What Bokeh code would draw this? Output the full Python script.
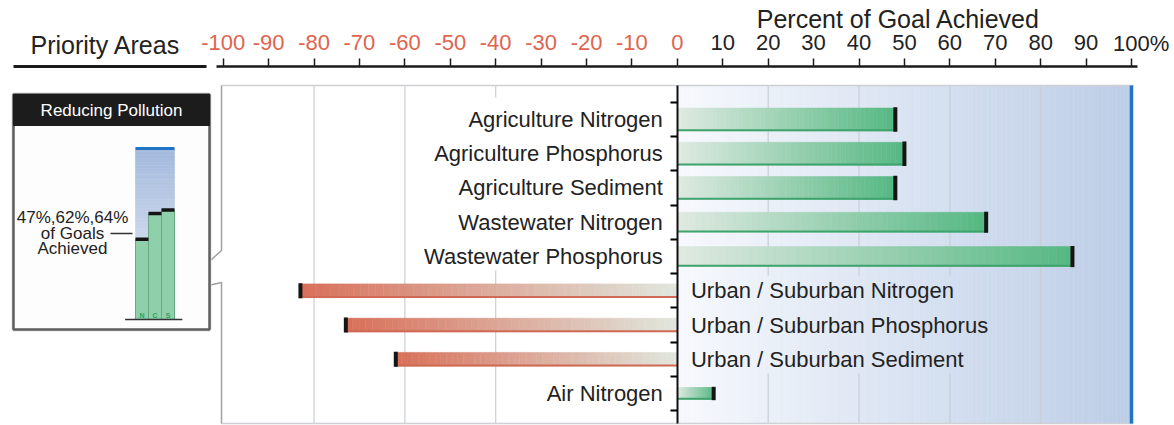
import numpy as np
from bokeh.plotting import figure
from bokeh.models import (Range1d, LinearAxis, FixedTicker, Label,
                          CustomJSTickFormatter, ColumnDataSource)
from bokeh.embed import file_html
from bokeh.resources import INLINE
from bokeh.core.properties import value

# ---------------- data ----------------
categories = ["Agriculture Nitrogen", "Agriculture Phosphorus", "Agriculture Sediment",
              "Wastewater Nitrogen", "Wastewater Phosphorus",
              "Urban / Suburban Nitrogen", "Urban / Suburban Phosphorus",
              "Urban / Suburban Sediment", "Air Nitrogen"]
percent_achieved = [48, 50, 48, 68, 87, -83, -73, -62, 8]

ticks_negative = [-100, -90, -80, -70, -60, -50, -40, -30, -20, -10, 0]
ticks_positive = [10, 20, 30, 40, 50, 60, 70, 80, 90]
tick_last_label = "100%"
tick_last_value = 100

inset_sectors = ["N", "C", "S"]
inset_values = [47, 62, 64]
inset_label = ["47%,62%,64%", "of Goals", "Achieved"]

# ---------------- style ----------------
FONT = "Liberation Sans"
TXT = "#222222"
bar_thickness = [0.67, 0.67, 0.67, 0.58, 0.58, 0.40, 0.40, 0.40, 0.35]


def hex2rgb(h):
    h = h.lstrip("#")
    return np.array([int(h[i:i + 2], 16) for i in (0, 2, 4)], dtype=float)


def lerp(c0, c1, t):
    a, b = hex2rgb(c0), hex2rgb(c1)
    c = a + (b - a) * t
    return "#%02x%02x%02x" % tuple(int(round(x)) for x in c)


W, H = 1174, 425
p = figure(width=W, height=H, x_range=Range1d(0, W), y_range=Range1d(H, 0),
           output_backend="svg", toolbar_location=None, min_border=0,
           x_axis_location=None, y_axis_location=None)
p.outline_line_color = None
p.background_fill_color = "white"
p.border_fill_color = "white"
p.xgrid.visible = False
p.ygrid.visible = False
p.extra_x_ranges = {"pct": Range1d(-149.04, 109.47), "mini": Range1d(-10.885, 79.42)}
p.extra_y_ranges = {"row": Range1d(8.934, -3.474), "mini": Range1d(-61.99, 186.55)}

PTOP, PBOT = 85, 423

# background gradient on the positive side
nb = 120
edges = np.linspace(0, 100, nb + 1)
bg_cols = [lerp("#f7f9fd", "#bccde6", (k + 0.5) / nb) for k in range(nb)]
p.quad(left=edges[:-1], right=edges[1:], bottom=PBOT, top=PTOP, fill_color=bg_cols,
       line_color=bg_cols, line_width=0.6, x_range_name="pct")

# grid lines (broken behind label blocks)
g_x = [-80, -60, -40, -40, 20, 20, 40, 40, 60, 60, 80]
g_y0 = [PTOP, PTOP, PTOP, 270, PTOP, 373, PTOP, 373, PTOP, 373, PTOP]
g_y1 = [PBOT, PBOT, 97, PBOT, 275, PBOT, 275, PBOT, 275, PBOT, PBOT]
p.segment(x0=g_x, x1=g_x, y0=g_y0, y1=g_y1, line_color="#c9ced6", line_width=1.2,
          x_range_name="pct")

# panel border
p.segment(x0=[221, 221], x1=[1133, 1133], y0=[PTOP, PBOT], y1=[PTOP, PBOT],
          line_color="#cdd0d4", line_width=1.5)
p.line(x=[221, 221, 173, 221, 221], y=[PTOP, 250, 293, 282, PBOT],
       line_color="#a0a0a0", line_width=1.5)
# 100% goal line
p.segment(x0=[tick_last_value], x1=[tick_last_value], y0=[PTOP], y1=[PBOT],
          line_color="#1f74c6", line_width=3.5, x_range_name="pct")

# gradient bars
ns = 50
L, R, B, T, C = [], [], [], [], []
for i, v in enumerate(percent_achieved):
    h = bar_thickness[i]
    e = np.linspace(0, v, ns + 1)
    if v >= 0:
        c0, c1 = "#e0eae2", "#55b782"
    else:
        c0, c1 = "#e0e7de", "#d86f59"
    for k in range(ns):
        L.append(min(e[k], e[k + 1]))
        R.append(max(e[k], e[k + 1]))
        B.append(i + h / 2)
        T.append(i - h / 2)
        C.append(lerp(c0, c1, (k + 0.5) / ns))
p.quad(left=L, right=R, bottom=B, top=T, fill_color=C, line_color=C, line_width=0.5,
       x_range_name="pct", y_range_name="row")

yrow = np.arange(len(categories))
th = np.array(bar_thickness)
edge_cols = ["#3fa36d" if v >= 0 else "#d06a55" for v in percent_achieved]
p.segment(x0=[0] * len(categories), x1=percent_achieved, y0=yrow + th / 2 - 0.02,
          y1=yrow + th / 2 - 0.02, line_color=edge_cols, line_width=2,
          x_range_name="pct", y_range_name="row")
p.segment(x0=percent_achieved, x1=percent_achieved, y0=yrow - th / 2 - 0.02,
          y1=yrow + th / 2 + 0.02, line_color="#151515", line_width=4,
          x_range_name="pct", y_range_name="row")

# row labels
left_src = ColumnDataSource(dict(
    x=[-3.2 for v in percent_achieved if v >= 0],
    y=[i for i, v in enumerate(percent_achieved) if v >= 0],
    t=[c for c, v in zip(categories, percent_achieved) if v >= 0]))
right_src = ColumnDataSource(dict(
    x=[3.0 for v in percent_achieved if v < 0],
    y=[i for i, v in enumerate(percent_achieved) if v < 0],
    t=[c for c, v in zip(categories, percent_achieved) if v < 0]))
for src, al in ((left_src, "right"), (right_src, "left")):
    p.text(x="x", y="y", text="t", source=src, text_align=al, text_baseline="middle",
           text_font=value(FONT), text_font_size="22px", text_color=TXT,
           x_range_name="pct", y_range_name="row")

# zero axis with row separators
ax0 = LinearAxis(x_range_name="pct", y_range_name="row", fixed_location=0,
                 ticker=FixedTicker(ticks=[k - 0.5 for k in range(len(categories) + 1)]),
                 formatter=CustomJSTickFormatter(code="return ''"),
                 bounds=(-0.993, 8.876))
ax0.axis_line_width = 2
ax0.axis_line_color = "#111111"
ax0.major_tick_out = 7
ax0.major_tick_in = 0
ax0.major_tick_line_width = 2
ax0.minor_tick_out = 0
ax0.minor_tick_in = 0
p.add_layout(ax0, "left")

# top percent axes
def top_axis(ticks, bounds, color):
    a = LinearAxis(x_range_name="pct", fixed_location=66,
                   ticker=FixedTicker(ticks=ticks), bounds=bounds,
                   formatter=CustomJSTickFormatter(code="return tick == 100 ? '' : String(tick)"))
    a.axis_line_width = 2.5
    a.axis_line_color = "#1a1a1a"
    a.major_tick_out = 8
    a.major_tick_in = 0
    a.major_tick_line_width = 1.5
    a.major_tick_line_color = "#1a1a1a"
    a.minor_tick_out = 0
    a.minor_tick_in = 0
    a.major_label_text_font = FONT
    a.major_label_text_font_size = "22px"
    a.major_label_text_color = color
    a.major_label_standoff = 9
    return a

p.add_layout(top_axis(ticks_negative, (-101.5, 0), "#e0644e"), "above")
p.add_layout(top_axis(ticks_positive + [tick_last_value], (0, 101.3), TXT), "above")
p.add_layout(Label(x=tick_last_value, x_range_name="pct", x_offset=-18.4, y=43,
                   text=tick_last_label, text_align="left", text_baseline="middle",
                   text_font=FONT, text_font_size="22px", text_color=TXT))

# headers
p.add_layout(Label(x=898, y=18, text="Percent of Goal Achieved", text_align="center",
                   text_baseline="middle", text_font=FONT, text_font_size="25px",
                   text_color=TXT))
p.add_layout(Label(x=105, y=44, text="Priority Areas", text_align="center",
                   text_baseline="middle", text_font=FONT, text_font_size="25px",
                   text_color=TXT))
p.segment(x0=[13], x1=[206], y0=[66], y1=[66], line_color="#1a1a1a", line_width=3)

# ---------------- inset ----------------
p.quad(left=[13], right=[209], top=[94], bottom=[329], fill_color="#e6e6e6",
       line_color="#dcdcdc", line_width=4)
p.quad(left=[13], right=[209], top=[94], bottom=[329], fill_color="#fdfdfd",
       line_color="#5e5e5e", line_width=2.5)
p.quad(left=[13], right=[209], top=[94], bottom=[125], fill_color="#1c1c1c",
       line_color="#1c1c1c")
p.add_layout(Label(x=111, y=110, text="Reducing Pollution", text_align="center",
                   text_baseline="middle", text_font=FONT, text_font_size="17px",
                   text_color="white"))

# inset background gradient
nm = 60
me = np.linspace(0, 100, nm + 1)
mcols = [lerp("#eef2f8", "#a3b9dc", (k + 0.5) / nm) for k in range(nm)]
p.quad(left=-0.5, right=len(inset_values) - 0.5, bottom=me[:-1], top=me[1:],
       fill_color=mcols, line_color=mcols, line_width=0.6,
       x_range_name="mini", y_range_name="mini")
p.segment(x0=[-0.5], x1=[len(inset_values) - 0.5], y0=[100], y1=[100],
          line_color="#1f74c6", line_width=3, x_range_name="mini", y_range_name="mini")
kx = np.arange(len(inset_values))
p.quad(left=kx - 0.5, right=kx + 0.5, bottom=0, top=inset_values, fill_color="#8fcfa9",
       line_color="#6aa884", line_width=1, x_range_name="mini", y_range_name="mini")
p.segment(x0=kx - 0.5, x1=kx + 0.5, y0=inset_values, y1=inset_values,
          line_color="#151515", line_width=3.5, x_range_name="mini", y_range_name="mini")
p.segment(x0=[-1.3], x1=[3.1], y0=[0], y1=[0], line_color="#333333", line_width=1.5,
          x_range_name="mini", y_range_name="mini")
p.text(x=kx, y=[2.5] * 3, text=inset_sectors, text_align="center",
       text_baseline="middle", text_font=value(FONT), text_font_size="7px",
       text_font_style="bold", text_color="#2ca25f",
       x_range_name="mini", y_range_name="mini")
for j, (t, yy) in enumerate(zip(inset_label, [217, 233, 248])):
    p.add_layout(Label(x=72, y=yy, text=t, text_align="center", text_baseline="middle",
                       text_font=FONT, text_font_size="17px", text_color=TXT))
p.segment(x0=[110], x1=[132], y0=[233], y1=[233], line_color="#333333", line_width=1.5)

open("out.html", "w").write(file_html(p, INLINE))
